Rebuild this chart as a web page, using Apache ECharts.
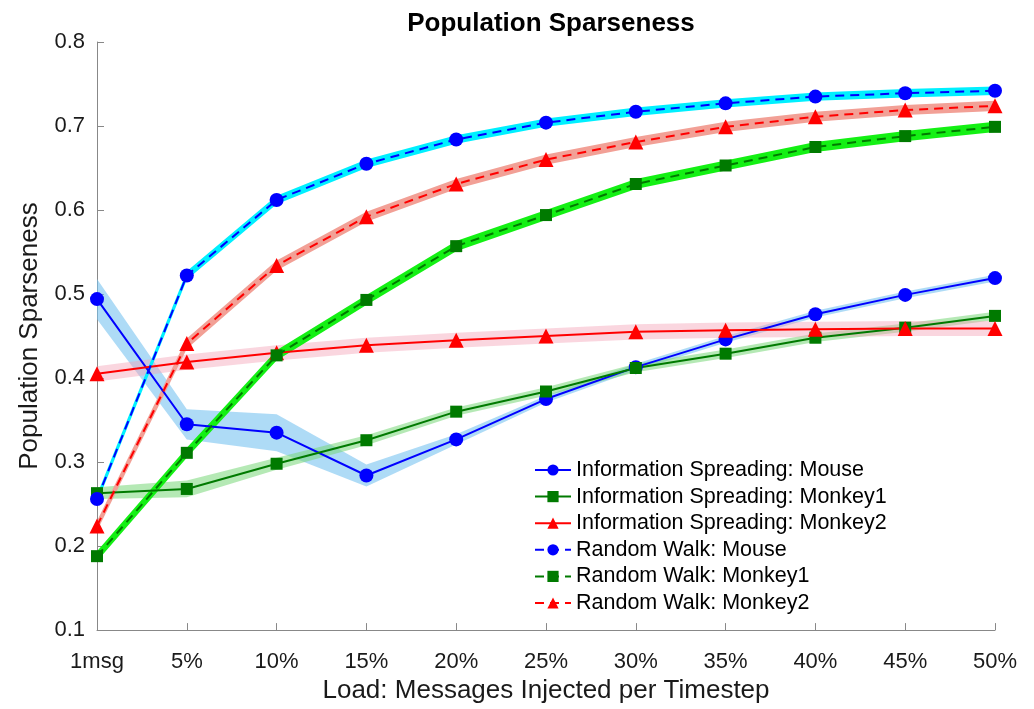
<!DOCTYPE html>
<html>
<head>
<meta charset="utf-8">
<script src="https://cdn.jsdelivr.net/npm/echarts@6/dist/echarts.min.js"></script>
<style>
  html, body { margin: 0; padding: 0; background: #fff; }
  #chart { width: 1034px; height: 709px; }
</style>
</head>
<body>
<div id="chart"></div>
<script>
// Load levels on the x axis
const categories = ['1msg', '5%', '10%', '15%', '20%', '25%', '30%', '35%', '40%', '45%', '50%'];

// Information Spreading: mean sparseness and half-width of the shaded band
const isMouse      = [0.494, 0.345, 0.335, 0.284, 0.327, 0.375, 0.413, 0.446, 0.476, 0.499, 0.519];
const isMouseErr   = [0.024, 0.018, 0.022, 0.013, 0.006, 0.004, 0.004, 0.004, 0.004, 0.004, 0.004];
const isMonkey1    = [0.263, 0.268, 0.298, 0.326, 0.360, 0.384, 0.412, 0.429, 0.448, 0.460, 0.474];
const isMonkey1Err = [0.007, 0.010, 0.007, 0.006, 0.005, 0.005, 0.005, 0.005, 0.005, 0.005, 0.005];
const isMonkey2    = [0.405, 0.419, 0.430, 0.439, 0.445, 0.450, 0.455, 0.457, 0.458, 0.459, 0.459];
const isMonkey2Err = [0.009, 0.009, 0.009, 0.009, 0.009, 0.009, 0.009, 0.009, 0.009, 0.009, 0.009];

// Random Walk: mean sparseness and half-width of the shaded band
const rwMouse      = [0.256, 0.522, 0.612, 0.655, 0.684, 0.704, 0.717, 0.727, 0.735, 0.739, 0.742];
const rwMouseErr   = [0.005, 0.005, 0.005, 0.005, 0.005, 0.005, 0.005, 0.005, 0.005, 0.005, 0.005];
const rwMonkey1    = [0.188, 0.311, 0.427, 0.493, 0.557, 0.594, 0.631, 0.653, 0.675, 0.688, 0.699];
const rwMonkey1Err = [0.006, 0.006, 0.006, 0.006, 0.006, 0.006, 0.006, 0.006, 0.006, 0.006, 0.006];
const rwMonkey2    = [0.224, 0.441, 0.534, 0.592, 0.631, 0.660, 0.681, 0.699, 0.711, 0.719, 0.724];
const rwMonkey2Err = [0.006, 0.006, 0.006, 0.006, 0.006, 0.006, 0.006, 0.006, 0.006, 0.006, 0.006];

const yTicks = [0.1, 0.2, 0.3, 0.4, 0.5, 0.6, 0.7, 0.8];

const FONT = 'Liberation Sans, Arial, Helvetica, sans-serif';

// Shaded band: an invisible lower line plus a stacked area of width 2*err
function band(id, mean, err, color) {
  const lower = mean.map((m, i) => +(m - err[i]).toFixed(4));
  const width = err.map(e => +(2 * e).toFixed(4));
  return [
    {
      name: id + '-lo', type: 'line', stack: id, data: lower,
      symbol: 'none', silent: true, z: 1,
      lineStyle: { width: 0, opacity: 0 }
    },
    {
      name: id + '-hi', type: 'line', stack: id, data: width,
      symbol: 'none', silent: true, z: 1,
      lineStyle: { width: 0, opacity: 0 },
      areaStyle: { color: color, opacity: 1 }
    }
  ];
}

function curve(name, data, color, symbol, size, dashed) {
  return {
    name: name, type: 'line', data: data, z: 3,
    symbol: symbol, symbolSize: size, showAllSymbol: true,
    itemStyle: { color: color, borderWidth: 0 },
    lineStyle: { color: color, width: 2, type: dashed ? [9, 6] : 'solid' }
  };
}

const names = [
  'Information Spreading: Mouse',
  'Information Spreading: Monkey1',
  'Information Spreading: Monkey2',
  'Random Walk: Mouse',
  'Random Walk: Monkey1',
  'Random Walk: Monkey2'
];

const series = [].concat(
  band('b-is-mouse', isMouse, isMouseErr, 'rgba(120,195,240,0.6)'),
  band('b-is-m1', isMonkey1, isMonkey1Err, 'rgba(120,215,120,0.55)'),
  band('b-is-m2', isMonkey2, isMonkey2Err, 'rgba(245,165,185,0.45)'),
  band('b-rw-mouse', rwMouse, rwMouseErr, 'rgb(0,240,255)'),
  band('b-rw-m1', rwMonkey1, rwMonkey1Err, 'rgb(20,240,20)'),
  band('b-rw-m2', rwMonkey2, rwMonkey2Err, 'rgb(242,160,150)'),
  [
    curve(names[0], isMouse, '#0000ff', 'circle', 14, false),
    curve(names[1], isMonkey1, '#007a00', 'rect', 12, false),
    curve(names[2], isMonkey2, '#ff0000', 'triangle', 15, false),
    curve(names[3], rwMouse, '#0000ff', 'circle', 14, true),
    curve(names[4], rwMonkey1, '#007a00', 'rect', 12, true),
    curve(names[5], rwMonkey2, '#ff0000', 'triangle', 15, true)
  ]
);

const chart = echarts.init(document.getElementById('chart'), null, { renderer: 'canvas' });
chart.setOption({
  animation: false,
  backgroundColor: '#ffffff',
  title: {
    text: 'Population Sparseness',
    left: 546, top: 6, textAlign: 'center',
    textStyle: { fontFamily: FONT, fontWeight: 'bold', fontSize: 26, color: '#000' }
  },
  grid: { left: 97, right: 39, top: 42, bottom: 77.5, containLabel: false },
  legend: {
    data: names,
    orient: 'vertical',
    left: 529, top: 454,
    itemWidth: 36, itemHeight: 14, itemGap: 4.6,
    textStyle: { fontFamily: FONT, fontSize: 21.5, color: '#000' }
  },
  xAxis: {
    type: 'category',
    data: categories,
    boundaryGap: false,
    name: 'Load: Messages Injected per Timestep',
    nameLocation: 'middle', nameGap: 44,
    nameTextStyle: { fontFamily: FONT, fontSize: 26, color: '#1a1a1a' },
    axisLine: { lineStyle: { color: '#888', width: 1 } },
    axisTick: { inside: true, length: 7, lineStyle: { color: '#888' }, alignWithLabel: true },
    axisLabel: { fontFamily: FONT, fontSize: 22, color: '#1a1a1a', margin: 21 },
    splitLine: { show: false }
  },
  yAxis: {
    type: 'value',
    min: yTicks[0], max: yTicks[yTicks.length - 1], interval: 0.1,
    name: 'Population Sparseness',
    nameLocation: 'middle', nameGap: 54, nameRotate: 90,
    nameTextStyle: { fontFamily: FONT, fontSize: 26, color: '#1a1a1a' },
    axisLine: { show: true, lineStyle: { color: '#888', width: 1 } },
    axisTick: { show: true, inside: true, length: 7, lineStyle: { color: '#888' } },
    axisLabel: {
      fontFamily: FONT, fontSize: 22, color: '#1a1a1a', margin: 12,
      formatter: v => v.toFixed(1)
    },
    splitLine: { show: false }
  },
  series: series
});
</script>
</body>
</html>
